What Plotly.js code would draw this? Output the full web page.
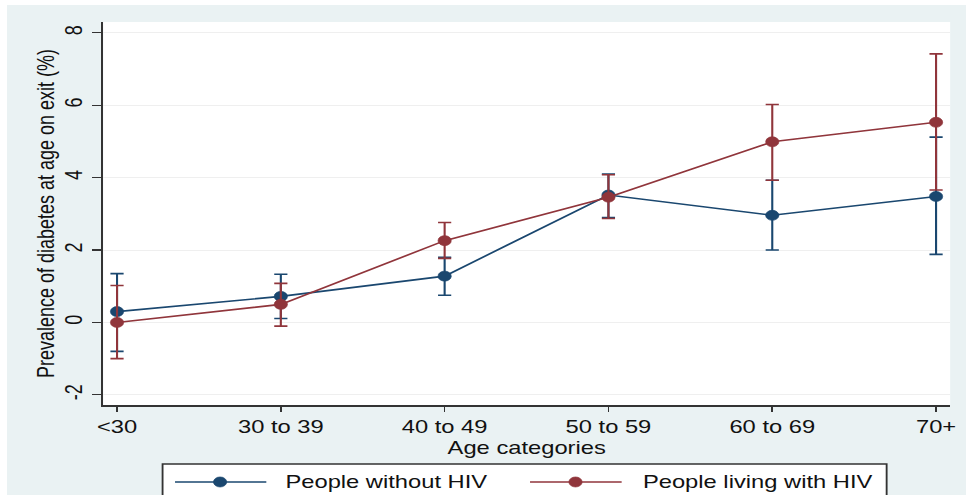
<!DOCTYPE html>
<html>
<head>
<meta charset="utf-8">
<script src="https://cdn.plot.ly/plotly-3.0.1.min.js"></script>
<style>
  html, body { margin: 0; padding: 0; background: #ffffff; width: 966px; height: 495px; overflow: hidden; }
  #chart { position: absolute; left: 7px; top: 5px; width: 727px; height: 490px;
           transform: scaleX(1.3191); transform-origin: 0 0; }
</style>
</head>
<body>
<div id="chart"></div>
<script>
// ---- data ----
const categories = ['<30', '30 to 39', '40 to 49', '50 to 59', '60 to 69', '70+'];

const withoutHIV      = [0.30, 0.72, 1.28, 3.52, 2.96, 3.48];
const withoutHIV_low  = [-0.80, 0.11, 0.75, 2.90, 2.00, 1.88];
const withoutHIV_high = [1.35, 1.33, 1.80, 4.10, 3.93, 5.12];

const withHIV      = [0.00, 0.50, 2.26, 3.46, 4.99, 5.53];
const withHIV_low  = [-1.00, -0.10, 1.77, 2.87, 3.93, 3.66];
const withHIV_high = [1.02, 1.08, 2.76, 4.08, 6.02, 7.42];

const seriesNames = ['People without HIV', 'People living with HIV'];
const yTicks = [-2, 0, 2, 4, 6, 8];

// ---- styling ----
const BLUE = '#1a476f';
const RED = '#90353b';
const FONT = '"Liberation Sans", Arial, Helvetica, sans-serif';
const TEXT = '#111111';

function plus(v, hi) { return hi.map((h, i) => h - v[i]); }
function minus(v, lo) { return lo.map((l, i) => v[i] - l); }

function series(name, y, lo, hi, color) {
  return {
    type: 'scatter', mode: 'lines+markers', name: name,
    x: categories, y: y,
    line: { color: color, width: 1.6 },
    marker: { color: color, size: 10, line: { color: color, width: 0.6 } },
    error_y: { type: 'data', symmetric: false, array: plus(y, hi), arrayminus: minus(y, lo),
               color: color, thickness: 1.6, width: 5 },
    cliponaxis: false,
    showlegend: false
  };
}

const traces = [
  series(seriesNames[0], withoutHIV, withoutHIV_low, withoutHIV_high, BLUE),
  series(seriesNames[1], withHIV, withHIV_low, withHIV_high, RED)
];

// custom legend (Stata style: long line with marker in the middle)
const legY = -0.201;
const legendItems = [
  { x0: 0.0847, x1: 0.1925, xm: 0.1379, xt: 0.2118, color: BLUE, label: seriesNames[0] },
  { x0: 0.5039, x1: 0.6121, xm: 0.5576, xt: 0.634,  color: RED,  label: seriesNames[1] }
];
const shapes = [
  { type: 'rect', xref: 'paper', yref: 'paper', x0: 0.070, x1: 0.925, y0: -0.27, y1: -0.154,
    fillcolor: '#ffffff', line: { color: '#333333', width: 1.4 }, layer: 'above' }
];
const annotations = [];
legendItems.forEach(it => {
  shapes.push({ type: 'line', xref: 'paper', yref: 'paper', x0: it.x0, x1: it.x1, y0: legY, y1: legY,
                line: { color: it.color, width: 1.6 }, layer: 'above' });
  shapes.push({ type: 'circle', xref: 'paper', yref: 'paper', xsizemode: 'pixel', ysizemode: 'pixel',
                xanchor: it.xm, yanchor: legY, x0: -5, x1: 5, y0: -5, y1: 5,
                fillcolor: it.color, line: { color: it.color, width: 0.6 }, layer: 'above' });
  annotations.push({ xref: 'paper', yref: 'paper', x: it.xt, y: legY, xanchor: 'left', yanchor: 'middle',
                     text: it.label, showarrow: false, font: { family: FONT, size: 18, color: TEXT } });
});

const layout = {
  width: 727, height: 490,
  margin: { l: 73, r: 12, t: 17, b: 90, pad: 0 },
  paper_bgcolor: '#eaf2f3',
  plot_bgcolor: '#ffffff',
  font: { family: FONT, color: TEXT, size: 18 },
  showlegend: false,
  xaxis: {
    type: 'category',
    categoryorder: 'array', categoryarray: categories,
    range: [-0.0838, 5.086],
    showgrid: false, zeroline: false,
    showline: true, linecolor: '#333333', linewidth: 1.6,
    ticks: 'outside', ticklen: 5, tickwidth: 1.2, tickcolor: '#333333',
    tickfont: { family: FONT, size: 18, color: TEXT },
    title: { text: 'Age categories', font: { family: FONT, size: 18, color: TEXT }, standoff: 5 }
  },
  yaxis: {
    range: [-2.28, 8.3],
    tickvals: yTicks, ticktext: yTicks.map(String),
    tickangle: -90,
    showgrid: true, gridcolor: '#efefef', gridwidth: 1,
    zeroline: false,
    showline: true, linecolor: '#333333', linewidth: 1.6,
    ticks: 'outside', ticklen: 7, tickwidth: 1.2, tickcolor: '#333333',
    tickfont: { family: FONT, size: 18, color: TEXT },
    title: { text: 'Prevalence of diabetes at age on exit (%)', font: { family: FONT, size: 18, color: TEXT }, standoff: 0 }
  },
  shapes: shapes,
  annotations: annotations
};

Plotly.newPlot('chart', traces, layout, { displayModeBar: false, staticPlot: true });
</script>
</body>
</html>
